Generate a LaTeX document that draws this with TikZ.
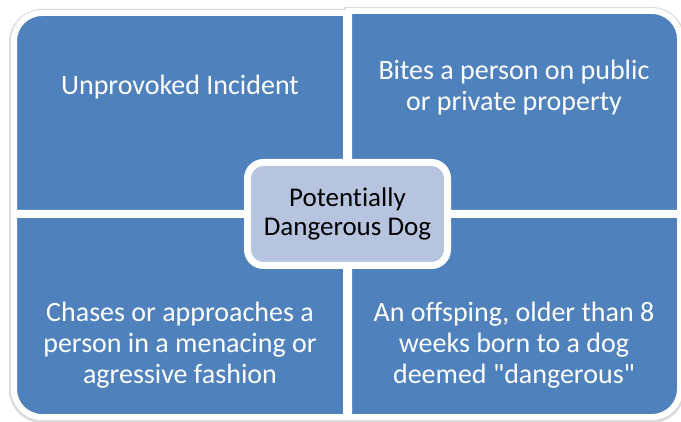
\documentclass[tikz,border=0pt]{standalone}
\usepackage{fontspec}
\setmainfont{Carlito}[Ligatures=NoCommon]
\definecolor{feldblau}{RGB}{79,129,189}
\definecolor{mittelblau}{RGB}{182,196,223}
\tikzset{
	feld/.style={fill=feldblau,draw=white,line width=6pt},
	schatten/.style={draw=black!14,line width=10pt,transform canvas={yshift=-1pt}},
	feldtext/.style={text=white,align=center,inner sep=0pt,font=\fontsize{28}{31}\selectfont},
	mitte/.style={draw=white,line width=7pt,fill=mittelblau,rounded corners=16pt,
		minimum width=200pt,minimum height=103pt,align=center,inner sep=0pt,
		font=\fontsize{27}{29}\selectfont}
}
\begin{document}
\begin{tikzpicture}[x=1pt,y=1pt]
\def\r{28}
\def\feldOL{(346,408) -- (14+\r,408) arc[start angle=90,end angle=180,radius=\r] -- (14,208) -- (346,208) -- cycle}
\def\feldOR{(349,410) -- (680-\r,410) arc[start angle=90,end angle=0,radius=\r] -- (680,208) -- (349,208) -- cycle}
\def\feldUL{(346,206) -- (14,206) -- (14,4+\r) arc[start angle=180,end angle=270,radius=\r] -- (346,4) -- cycle}
\def\feldUR{(349,206) -- (680,206) -- (680,4+\r) arc[start angle=0,end angle=-90,radius=\r] -- (349,4) -- cycle}
\useasboundingbox (0,0) rectangle (681,421);
% Schatten zuerst
\draw[schatten] \feldOL;
\draw[schatten] \feldOR;
\draw[schatten] \feldUL;
\draw[schatten] \feldUR;
% Felder
\draw[feld] \feldOL;
\draw[feld] \feldOR;
\draw[feld] \feldUL;
\draw[feld] \feldUR;
\node[feldtext] (textOL) at (180,334) {Unprovoked Incident};
\node[feldtext] (textOR) at (514,333) {Bites a person on public\\or private property};
\node[feldtext] (textUL) at (180,76) {Chases or approaches a\\person in a menacing or\\agressive fashion};
\node[feldtext] (textUR) at (514,76) {An offsping, older than 8\\weeks born to a dog\\deemed \textquotedbl dangerous\textquotedbl};
% Mitte
\node[mitte] (hund) at (347.5,207) {Potentially\\Dangerous Dog};
\end{tikzpicture}
\end{document}
